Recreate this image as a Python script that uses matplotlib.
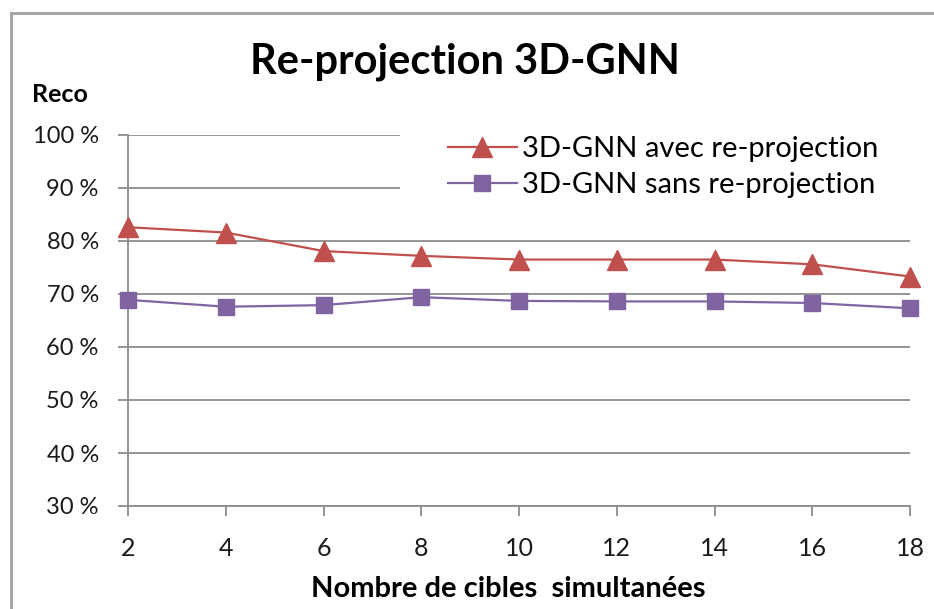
import matplotlib
matplotlib.use("Agg")
import matplotlib.pyplot as plt
from matplotlib.patches import Rectangle
from matplotlib.ticker import FuncFormatter

# Taux de reconnaissance (%) selon le nombre de cibles
cibles = [2, 4, 6, 8, 10, 12, 14, 16, 18]
avec_reproj = [82.6, 81.6, 78.1, 77.2, 76.5, 76.5, 76.5, 75.6, 73.3]
sans_reproj = [68.9, 67.6, 67.9, 69.4, 68.7, 68.6, 68.6, 68.3, 67.3]
yticks = [30, 40, 50, 60, 70, 80, 90, 100]

W, H = 934, 609
plt.rcParams['font.family'] = ['Lato', 'DejaVu Sans']

fig = plt.figure(figsize=(W / 100, H / 100), dpi=100)
ax = fig.add_axes([128 / W, 1 - 506 / H, (910 - 128) / W, (506 - 135) / H])

grey = "#8c8c8c"
ax.plot(cibles, avec_reproj, color="#C0504D", linewidth=1.6, marker="^",
        markersize=15, clip_on=False, zorder=4, label="3D-GNN avec re-projection")
ax.plot(cibles, sans_reproj, color="#8064A2", linewidth=1.6, marker="s",
        markersize=12, clip_on=False, zorder=4, label="3D-GNN sans re-projection")

ax.set_xlim(2, 18)
ax.set_ylim(30, 100)
ax.set_xticks(cibles)
ax.set_yticks(yticks)
ax.yaxis.set_major_formatter(FuncFormatter(lambda v, p: f"{int(v)} %"))
ax.grid(axis="y", color=grey, linewidth=1.3)
ax.set_axisbelow(True)
for s in ["top", "right"]:
    ax.spines[s].set_visible(False)
for s in ["left", "bottom"]:
    ax.spines[s].set_color(grey)
    ax.spines[s].set_linewidth(1.3)
ax.tick_params(axis="both", colors=grey, labelcolor="#1a1a1a",
               length=7, width=1.3, direction="out")
ax.tick_params(axis="x", pad=15, labelsize=18)
ax.tick_params(axis="y", pad=14, labelsize=17)

# zone blanche de la légende (masque les lignes de grille)
ax.add_patch(Rectangle((400 / W, 1 - 212 / H), 520 / W, 90 / H,
                       transform=fig.transFigure, facecolor="white",
                       edgecolor="none", zorder=1, clip_on=False))
ax.legend(loc="center left", bbox_to_anchor=(448 / W, 1 - 167 / H),
          bbox_transform=fig.transFigure, fontsize=21, frameon=False,
          handlelength=2.35, handletextpad=0.2, borderpad=0,
          labelspacing=0.33, borderaxespad=0)

fig.text(465 / W, 1 - 62 / H, "Re-projection 3D-GNN", ha="center", va="center",
         fontsize=30, fontweight="bold")
fig.text(60 / W, 1 - 95 / H, "Reco", ha="center", va="center",
         fontsize=18, fontweight="bold")
fig.text(508 / W, 1 - 589 / H, "Nombre de cibles  simultanées", ha="center",
         va="center", fontsize=21, fontweight="bold")

# cadre du graphique
fig.patches.append(Rectangle((11 / W, -0.1), 1.2, 1 - 13 / H + 0.1,
                             transform=fig.transFigure, fill=False,
                             edgecolor="#a6a6a6", linewidth=2.2))

fig.savefig("out.png", dpi=100)
